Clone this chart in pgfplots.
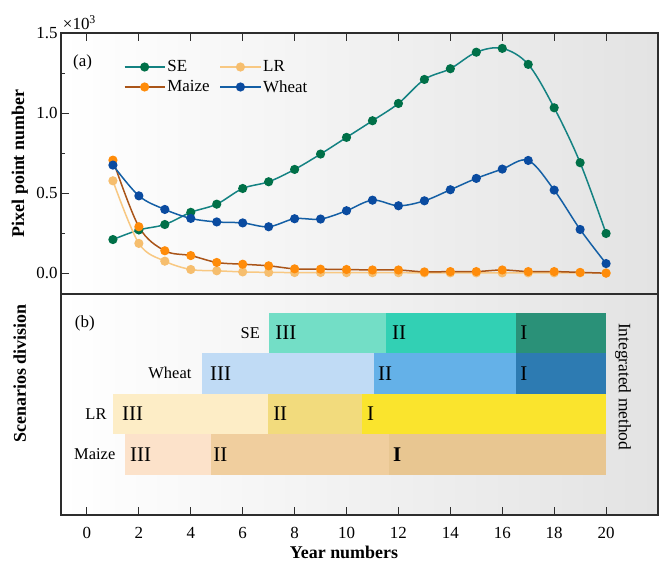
\documentclass[border=0pt]{standalone}
\usepackage{pgfplots}
\pgfplotsset{compat=1.18}
\usepackage{pgfplotstable}
\usepackage{fontspec}
\setmainfont{Liberation Serif}

\definecolor{SEline}{RGB}{20,130,130}
\definecolor{SEmark}{RGB}{0,112,72}
\definecolor{Wline}{RGB}{20,95,165}
\definecolor{Wmark}{RGB}{10,75,160}
\definecolor{Mline}{RGB}{170,85,25}
\definecolor{Mmark}{RGB}{255,140,10}
\definecolor{Lline}{RGB}{248,200,130}
\definecolor{Lmark}{RGB}{246,190,110}
\definecolor{SEa}{RGB}{115,222,198}
\definecolor{SEb}{RGB}{50,208,180}
\definecolor{SEc}{RGB}{42,145,120}
\definecolor{Wa}{RGB}{192,219,245}
\definecolor{Wb}{RGB}{100,177,232}
\definecolor{Wc}{RGB}{45,123,178}
\definecolor{La}{RGB}{253,237,198}
\definecolor{Lb}{RGB}{242,219,125}
\definecolor{Lc}{RGB}{250,228,45}
\definecolor{Ma}{RGB}{252,226,202}
\definecolor{Mb}{RGB}{240,206,158}
\definecolor{Mc}{RGB}{232,198,145}
\definecolor{frame}{RGB}{45,45,45}

\pgfplotstableread{
x SE LR Maize Wheat
1 0.210 0.577 0.706 0.675
2 0.270 0.186 0.290 0.483
3 0.304 0.075 0.140 0.398
4 0.380 0.023 0.110 0.342
5 0.431 0.015 0.067 0.320
6 0.529 0.008 0.056 0.314
7 0.571 0.005 0.046 0.290
8 0.648 0.004 0.027 0.340
9 0.744 0.004 0.025 0.338
10 0.848 0.003 0.023 0.390
11 0.952 0.003 0.020 0.456
12 1.060 0.003 0.020 0.421
13 1.210 0.002 0.008 0.452
14 1.277 0.002 0.010 0.521
15 1.380 0.002 0.010 0.592
16 1.404 0.002 0.020 0.650
17 1.304 0.002 0.010 0.704
18 1.033 0.002 0.010 0.519
19 0.690 0.002 0.005 0.273
20 0.248 0.002 0.000 0.060
}\data

\pgfplotsset{
  common/.style={
    scale only axis, width=597bp,
    xmin=-1, xmax=22,
    xtick={0,2,...,20},
    tick align=inside,
    major tick length=8bp, minor tick length=4bp,
    axis line style={frame, line width=1.2bp},
    every tick/.style={frame, line width=1bp},
    axis background/.style={left color=white, right color=gray!22},
    tick label style={font=\fontsize{17}{17}\selectfont, /pgf/number format/assume math mode=true},
    label style={font=\bfseries\fontsize{18}{18}\selectfont},
    clip=false,
  },
}

\begin{document}
\begin{tikzpicture}
\path[use as bounding box] (-61bp,-47bp) rectangle (598bp,515bp);
% bottom panel
\begin{axis}[common,
  at={(0,0)}, anchor=south west, height=221bp,
  ymin=0, ymax=5.46, ytick=\empty,
  xtick pos=left,
  xticklabel style={yshift=-9bp},
  xlabel={Year numbers},
  xlabel style={at={(axis description cs:0.474,-0.17)}, anchor=center},
  ylabel={Scenarios division},
  ylabel style={at={(axis description cs:-0.069,0.64)}, anchor=center},
]
% SE row
\addplot[fill=SEa, draw=none, forget plot] coordinates {(7,4) (11.52,4) (11.52,5) (7,5)} -- cycle;
\addplot[fill=SEb, draw=none, forget plot] coordinates {(11.52,4) (16.52,4) (16.52,5) (11.52,5)} -- cycle;
\addplot[fill=SEc, draw=none, forget plot] coordinates {(16.52,4) (20,4) (20,5) (16.52,5)} -- cycle;
% Wheat row
\addplot[fill=Wa, draw=none, forget plot] coordinates {(4.45,3) (11.05,3) (11.05,4) (4.45,4)} -- cycle;
\addplot[fill=Wb, draw=none, forget plot] coordinates {(11.05,3) (16.52,3) (16.52,4) (11.05,4)} -- cycle;
\addplot[fill=Wc, draw=none, forget plot] coordinates {(16.52,3) (20,3) (20,4) (16.52,4)} -- cycle;
% LR row
\addplot[fill=La, draw=none, forget plot] coordinates {(1.0,2) (6.97,2) (6.97,3) (1.0,3)} -- cycle;
\addplot[fill=Lb, draw=none, forget plot] coordinates {(6.97,2) (10.6,2) (10.6,3) (6.97,3)} -- cycle;
\addplot[fill=Lc, draw=none, forget plot] coordinates {(10.6,2) (20,2) (20,3) (10.6,3)} -- cycle;
% Maize row
\addplot[fill=Ma, draw=none, forget plot] coordinates {(1.46,1) (4.79,1) (4.79,2) (1.46,2)} -- cycle;
\addplot[fill=Mb, draw=none, forget plot] coordinates {(4.79,1) (11.63,1) (11.63,2) (4.79,2)} -- cycle;
\addplot[fill=Mc, draw=none, forget plot] coordinates {(11.63,1) (20,1) (20,2) (11.63,2)} -- cycle;

\begin{scope}[every node/.style={font=\fontsize{16.5}{16.5}\selectfont, inner sep=0pt}]
\node[anchor=east] at (axis cs:6.67,4.5) {SE};
\node[anchor=east] at (axis cs:4.03,3.5) {Wheat};
\node[anchor=east] at (axis cs:0.76,2.5) {LR};
\node[anchor=east] at (axis cs:1.10,1.5) {Maize};
\end{scope}
\begin{scope}[every node/.style={font=\fontsize{21}{21}\selectfont, inner sep=0pt, anchor=west}]
\node at (axis cs:7.25,4.5) {III};
\node at (axis cs:11.75,4.5) {II};
\node at (axis cs:16.69,4.5) {I};
\node at (axis cs:4.74,3.5) {III};
\node at (axis cs:11.21,3.5) {II};
\node at (axis cs:16.69,3.5) {I};
\node at (axis cs:1.35,2.5) {III};
\node at (axis cs:7.17,2.5) {II};
\node at (axis cs:10.79,2.5) {I};
\node at (axis cs:1.66,1.5) {III};
\node at (axis cs:4.86,1.5) {II};
\node at (axis cs:11.79,1.5) {\textbf{I}};
\end{scope}
\node[rotate=-90, font=\fontsize{17.5}{17.5}\selectfont] at (axis cs:20.65,3.17) {Integrated method};
\node[anchor=west, font=\fontsize{17}{17}\selectfont, inner sep=0pt] at (axis description cs:0.023,0.869) {(b)};
\end{axis}

% top panel
\begin{axis}[common,
  at={(0,221bp)}, anchor=south west, height=261bp,
  ymin=-0.13, ymax=1.5,
  xtick pos=right, xticklabels={},
  ytick pos=left, ytick={0,0.5,1,1.5}, minor y tick num=1,
  scaled y ticks=false,
  yticklabel style={/pgf/number format/.cd, fixed, fixed zerofill, precision=1},
  ylabel={Pixel point number},
  ylabel style={at={(axis description cs:-0.069,0.5)}, anchor=center},
  legend style={draw=none, fill=none, at={(axis description cs:0.1,0.91)}, anchor=north west,
    font=\fontsize{17}{17}\selectfont, /tikz/every even column/.append style={column sep=8bp},
    row sep=3bp},
  legend columns=2, legend cell align=left,
  legend image code/.code={\draw[mark repeat=2,mark phase=2,#1] plot coordinates {(0bp,0bp) (20bp,0bp) (40bp,0bp)};},
]
\addplot[SEline, line width=1.5bp, smooth, tension=0.55, mark=*, mark size=3.8bp, mark options={fill=SEmark, draw=SEmark, solid}] table[x=x,y=SE]{\data};
\addlegendentry{SE}
\addplot[Lline, line width=1.5bp, smooth, tension=0.55, mark=*, mark size=3.8bp, mark options={fill=Lmark, draw=Lmark, solid}] table[x=x,y=LR]{\data};
\addlegendentry{LR}
\addplot[Mline, line width=1.5bp, smooth, tension=0.55, mark=*, mark size=3.8bp, mark options={fill=Mmark, draw=Mmark, solid}] table[x=x,y=Maize]{\data};
\addlegendentry{Maize}
\addplot[Wline, line width=1.5bp, smooth, tension=0.55, mark=*, mark size=3.8bp, mark options={fill=Wmark, draw=Wmark, solid}] table[x=x,y=Wheat]{\data};
\addlegendentry{Wheat}
\node[anchor=west, font=\fontsize{17}{17}\selectfont, inner sep=0pt] at (axis description cs:0.02,0.889) {(a)};
\node[anchor=south west, font=\fontsize{17}{17}\selectfont, inner sep=0pt] at (axis description cs:0.003,1.012) {×10\textsuperscript{3}};
\end{axis}
\end{tikzpicture}
\end{document}
